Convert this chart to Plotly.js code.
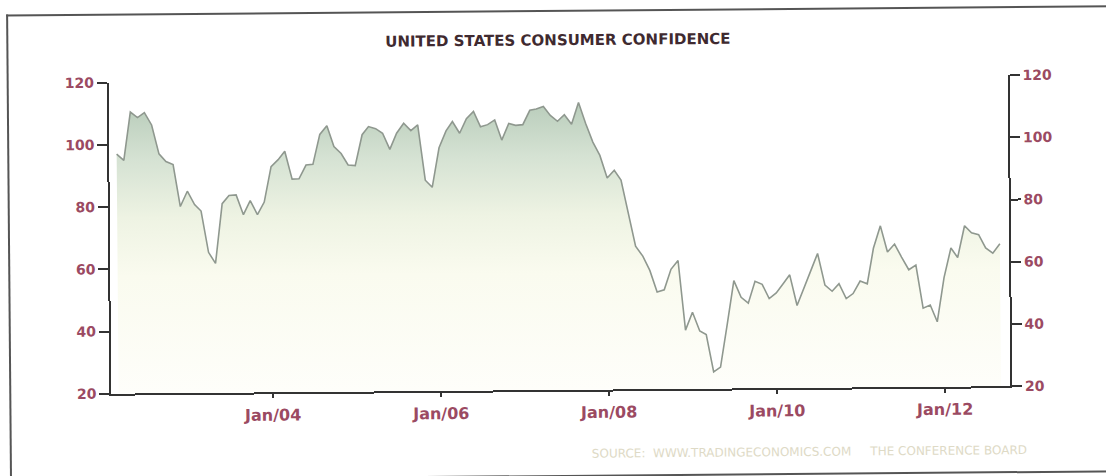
<!DOCTYPE html>
<html>
<head>
<meta charset="utf-8">
<script src="https://cdn.plot.ly/plotly-3.0.1.min.js"></script>
<style>
  html, body { margin: 0; padding: 0; background: #ffffff; overflow: hidden; width: 1106px; height: 476px; }
  #stage { position: absolute; left: 0; top: 0; width: 1106px; height: 476px; transform: rotate(-0.48deg); transform-origin: 553px 238px; }
  #frame { position: absolute; left: 8px; top: 10px; width: 1200px; height: 463px;
           border-left: 2px solid #555; border-top: 2px solid #555; border-bottom: 2px solid #555; }
  #chart { position: absolute; left: 0; top: 0; width: 1106px; height: 476px; }
</style>
</head>
<body>
<div id="stage">
  <div id="frame"></div>
  <div id="chart"></div>
</div>
<script>
// Consumer confidence index, monthly readings grouped by calendar year
const cc2002 = [97.0, 95.0, 110.5, 108.7, 110.3, 106.3, 97.0, 94.5, 93.5, 80.0];          // Mar–Dec
const cc2003 = [84.9, 80.6, 78.5, 65.2, 61.6, 80.8, 83.4, 83.6, 77.2, 81.7, 77.2, 81.2];
const cc2004 = [92.6, 94.8, 97.5, 88.5, 88.6, 93.0, 93.2, 102.8, 105.6, 98.9, 96.6, 92.9];
const cc2005 = [92.7, 102.6, 105.2, 104.5, 103.0, 97.8, 103.0, 106.2, 103.8, 105.6, 87.8, 85.5];
const cc2006 = [98.2, 103.6, 106.6, 102.8, 107.5, 109.8, 104.8, 105.5, 107.0, 100.5, 105.8, 105.2];
const cc2007 = [105.4, 110.0, 110.4, 111.2, 108.3, 106.4, 108.5, 105.4, 112.4, 105.7, 99.6, 95.3];
const cc2008 = [88.0, 90.5, 87.3, 76.4, 66.0, 62.8, 58.2, 51.2, 51.9, 58.5, 61.3, 38.9];
const cc2009 = [44.6, 38.6, 37.4, 25.4, 26.9, 40.8, 54.7, 49.3, 47.4, 54.4, 53.4, 48.8];
const cc2010 = [50.6, 53.6, 56.4, 46.5, 52.3, 57.7, 63.2, 53.0, 51.0, 53.4, 48.6, 50.2];
const cc2011 = [54.2, 53.3, 64.7, 71.9, 63.5, 66.0, 61.8, 57.7, 59.2, 45.3, 46.3, 40.9];
const cc2012 = [55.1, 64.6, 61.5, 71.7, 69.4, 68.8, 64.5, 62.8, 65.8];                     // Jan–Sep

// [year, first month of that year's readings, readings]
const yearBlocks = [
  [2002, 3, cc2002], [2003, 1, cc2003], [2004, 1, cc2004], [2005, 1, cc2005],
  [2006, 1, cc2006], [2007, 1, cc2007], [2008, 1, cc2008], [2009, 1, cc2009],
  [2010, 1, cc2010], [2011, 1, cc2011], [2012, 1, cc2012]
];

const tickDates  = ['2004-01-01', '2006-01-01', '2008-01-01', '2010-01-01', '2012-01-01'];
const tickLabels = ['Jan/04', 'Jan/06', 'Jan/08', 'Jan/10', 'Jan/12'];
const yTicks     = [20, 40, 60, 80, 100, 120];

const chartTitle = 'UNITED STATES CONSUMER CONFIDENCE';
const sourceNote = 'SOURCE:\u00a0 WWW.TRADINGECONOMICS.COM \u00a0\u00a0\u00a0 THE CONFERENCE BOARD';

// Flatten the yearly blocks into dated points
const dates = [];
const values = [];
yearBlocks.forEach(([year, firstMonth, readings]) => {
  readings.forEach((v, i) => {
    const m = firstMonth + i;
    dates.push(year + '-' + String(m).padStart(2, '0') + '-01');
    values.push(v);
  });
});

const FONT = 'DejaVu Sans, Verdana, sans-serif';
const TICK_COLOR = '#9b4a62';

const areaTrace = {
  type: 'scatter',
  mode: 'lines',
  x: dates,
  y: values,
  line: { color: '#8f988f', width: 1.6 },
  fill: 'tozeroy',
  fillgradient: {
    type: 'vertical',
    start: 20,
    stop: 114,
    colorscale: [
      [0.0, '#fefefa'],
      [0.4, '#fafbef'],
      [0.6, '#eef3e3'],
      [0.8, '#d5e2d3'],
      [1.0, '#b7cbb9']
    ]
  },
  hoverinfo: 'skip'
};

// Same series bound to the right-hand axis so that axis is laid out and labelled
const rightAxisTrace = {
  type: 'scatter',
  mode: 'lines',
  x: dates,
  y: values,
  yaxis: 'y2',
  line: { color: 'rgba(0,0,0,0)', width: 0 },
  hoverinfo: 'skip'
};

const yAxisCommon = {
  range: [20, 120],
  tickmode: 'array',
  tickvals: yTicks,
  ticks: 'outside',
  ticklen: 10,
  tickwidth: 2,
  tickcolor: '#333333',
  showline: true,
  linecolor: '#333333',
  linewidth: 2,
  showgrid: false,
  zeroline: false,
  tickfont: { family: FONT, size: 14, color: TICK_COLOR, weight: 'bold' },
  fixedrange: true
};

const layout = {
  width: 1106,
  height: 476,
  margin: { l: 110, r: 97, t: 78.5, b: 86 },
  paper_bgcolor: 'rgba(0,0,0,0)',
  plot_bgcolor: 'rgba(0,0,0,0)',
  showlegend: false,
  title: {
    text: '<b>' + chartTitle + '</b>',
    font: { family: FONT, size: 15, color: '#3f2a30' },
    x: 0.5, xref: 'paper', xanchor: 'center',
    y: 1 - 40 / 476, yref: 'container', yanchor: 'middle'
  },
  xaxis: {
    type: 'date',
    range: ['2002-01-28', '2012-10-11'],
    tickmode: 'array',
    tickvals: tickDates,
    ticktext: tickLabels,
    ticks: 'outside',
    ticklen: 4,
    tickwidth: 1.5,
    tickcolor: '#333333',
    showline: true,
    linecolor: '#333333',
    linewidth: 2,
    showgrid: false,
    zeroline: false,
    tickfont: { family: FONT, size: 16, color: TICK_COLOR, weight: 'bold' },
    ticklabelstandoff: 3,
    fixedrange: true
  },
  yaxis: Object.assign({ side: 'left' }, yAxisCommon),
  yaxis2: Object.assign({ side: 'right', overlaying: 'y' }, yAxisCommon),
  annotations: [{
    text: sourceNote,
    xref: 'paper', yref: 'paper',
    x: 0.776, y: -0.205,
    xanchor: 'center', yanchor: 'middle',
    showarrow: false,
    font: { family: FONT, size: 12, color: '#dedac6' }
  }]
};

Plotly.newPlot('chart', [areaTrace, rightAxisTrace], layout, { staticPlot: true, displayModeBar: false });
</script>
</body>
</html>
